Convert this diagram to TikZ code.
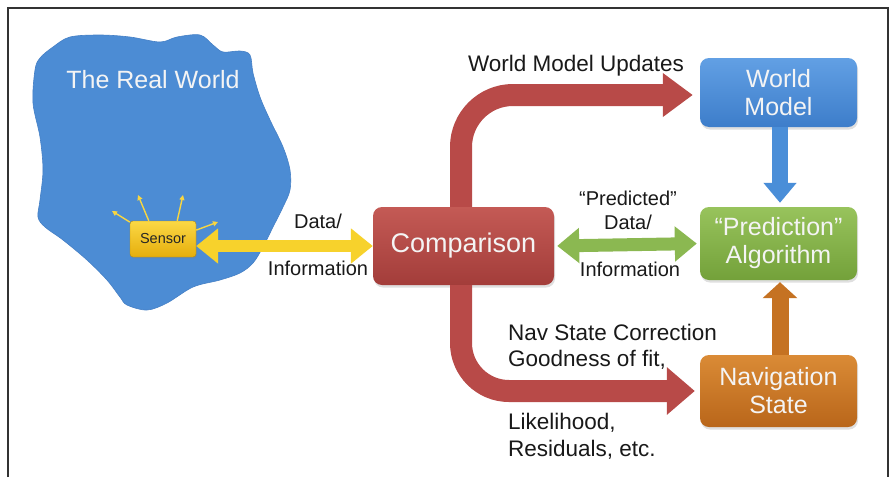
\documentclass[tikz,border=0pt]{standalone}
\usepackage{fontspec}
\setmainfont{Liberation Sans}
\usetikzlibrary{arrows.meta,shadows}

\definecolor{blobblue}{HTML}{4C8CD4}
\definecolor{blobedge}{HTML}{4580C6}
\definecolor{wmtop}{HTML}{62A0E4}
\definecolor{wmbot}{HTML}{3D7DCA}
\definecolor{prtop}{HTML}{98C35C}
\definecolor{prbot}{HTML}{73A13A}
\definecolor{cmtop}{HTML}{C45A55}
\definecolor{cmbot}{HTML}{A33D3A}
\definecolor{nvtop}{HTML}{DA8B36}
\definecolor{nvbot}{HTML}{B9661A}
\definecolor{sntop}{HTML}{FBD845}
\definecolor{snbot}{HTML}{E6AE0C}
\definecolor{yelarrow}{HTML}{F7D22C}
\definecolor{grnarrow}{HTML}{8BB851}
\definecolor{bluarrow}{HTML}{4A8ED8}
\definecolor{orgarrow}{HTML}{C57222}
\definecolor{redarrow}{HTML}{B84A48}
\definecolor{boxtext}{HTML}{F4F4F4}

\begin{document}
\begin{tikzpicture}[x=1pt,y=-1pt,
  stagebox/.style={rounded corners=9pt, minimum width=157pt, align=center,
    text=boxtext, font=\fontsize{25}{28}\selectfont, inner sep=2pt,
    drop shadow={shadow xshift=1pt, shadow yshift=-2.5pt, opacity=0.25}},
  lbl/.style={font=\fontsize{20}{24}\selectfont, text=black!90, inner sep=0pt},
  biglbl/.style={lbl, font=\fontsize{22.5}{26}\selectfont},
  fatarrow/.style={line width=#1},
]
% canvas and frame
\useasboundingbox (0,0) rectangle (892,477);
\fill[white] (0,0) rectangle (892,477);
\draw[line width=1.2pt, black!80] (8,477) -- (8,8) -- (888,8) -- (888,477);

% the real world blob
\fill[blobblue, draw=blobedge, line width=0.6pt]
  plot[smooth cycle, tension=0.55] coordinates {
    (35,70) (40,58) (53,47) (70,37) (100,35) (130,37) (160,42) (177,37)
    (200,35) (213,45) (223,52) (240,51) (250,55) (253,73) (260,97)
    (270,120) (283,147) (290,170) (290,190) (283,207) (273,227)
    (263,247) (253,263) (240,273) (220,280) (193,287) (167,303)
    (147,310) (127,305) (120,297) (107,280) (87,260) (63,240) (45,227)
    (38,217) (40,200) (43,170) (40,137) (33,103)};
\node[font=\fontsize{25}{28}\selectfont, text=boxtext, anchor=base] (rw) at (153,88) {The Real World};

% sensor and its emissions
\node[rounded corners=3pt, top color=sntop, bottom color=snbot, draw=snbot!80!black,
  line width=0.4pt, minimum width=66pt, minimum height=36pt, inner sep=0pt,
  font=\fontsize{14.5}{16}\selectfont, text=black!85,
  drop shadow={shadow xshift=1pt, shadow yshift=-1.5pt, opacity=0.25}] (sensor) at (163,239) {Sensor};
\coordinate (e1) at (112,211);
\coordinate (e2) at (138,195);
\coordinate (e3) at (183,195);
\coordinate (e4) at (218,222);
\foreach \a/\t in {153/e1,128/e2,52/e3,15/e4}
  \draw[yelarrow!90!white, line width=1.4pt, -{Triangle[length=5pt,width=5pt]}] (sensor.\a) -- (\t);

% main stages
\node[stagebox, top color=cmtop, bottom color=cmbot, minimum width=181pt, minimum height=78pt,
  font=\fontsize{27}{30}\selectfont] (cmp) at (463.5,246) {Comparison};
\node[stagebox, top color=wmtop, bottom color=wmbot, minimum height=69pt] (wm) at (778.5,92.5) {World\\Model};
\node[stagebox, top color=prtop, bottom color=prbot, minimum height=73pt] (pred) at (778.5,243.5) {``Prediction''\\Algorithm};
\node[stagebox, top color=nvtop, bottom color=nvbot, minimum height=72pt] (nav) at (778.5,391) {Navigation\\State};

% connectors
\draw[fatarrow=12pt, yelarrow, {Triangle[length=22pt,width=34pt]}-{Triangle[length=22pt,width=34pt]}]
  (sensor.east |- cmp.west) -- (cmp.west);
\draw[fatarrow=13pt, grnarrow, shorten <=3pt, shorten >=3pt,
  {Triangle[length=22pt,width=34pt]}-{Triangle[length=22pt,width=34pt]}]
  (cmp.east) -- (pred.west);
\draw[fatarrow=22pt, redarrow, rounded corners=52pt, shorten >=7pt,
  -{Triangle[length=30pt,width=42pt]}]
  ([xshift=-2.5pt]cmp.north) |- ([yshift=-2.5pt]wm.west);
\draw[fatarrow=22pt, redarrow, rounded corners=48pt, shorten >=5pt,
  -{Triangle[length=28pt,width=46pt]}]
  ([xshift=-2.5pt]cmp.south) |- (nav.west);
\draw[fatarrow=16pt, bluarrow, shorten >=4pt, -{Triangle[length=20pt,width=32pt]}]
  ([xshift=1.5pt]wm.south) -- ([xshift=1.5pt]pred.north);
\draw[fatarrow=17pt, orgarrow, shorten >=2pt, -{Triangle[length=16pt,width=34pt]}]
  ([xshift=1.5pt]nav.north) -- ([xshift=1.5pt]pred.south);

% labels
\node[biglbl, anchor=base] (lwmu) at (576,71) {World Model Updates};
\node[lbl, anchor=base] (ld1) at (318,228) {Data/};
\node[lbl, anchor=base] (li1) at (318,275) {Information};
\node[lbl, anchor=base] (lpr) at (628,205) {``Predicted''};
\node[lbl, anchor=base] (ld2) at (628,229) {Data/};
\node[lbl, anchor=base] (li2) at (630,276) {Information};
\node[biglbl, anchor=base west] (ln1) at (508,340) {Nav State Correction};
\node[biglbl, anchor=base west] (ln2) at (508,366) {Goodness of fit,};
\node[biglbl, anchor=base west] (ln3) at (508,429) {Likelihood,};
\node[biglbl, anchor=base west] (ln4) at (508,456) {Residuals, etc.};
\end{tikzpicture}
\end{document}
